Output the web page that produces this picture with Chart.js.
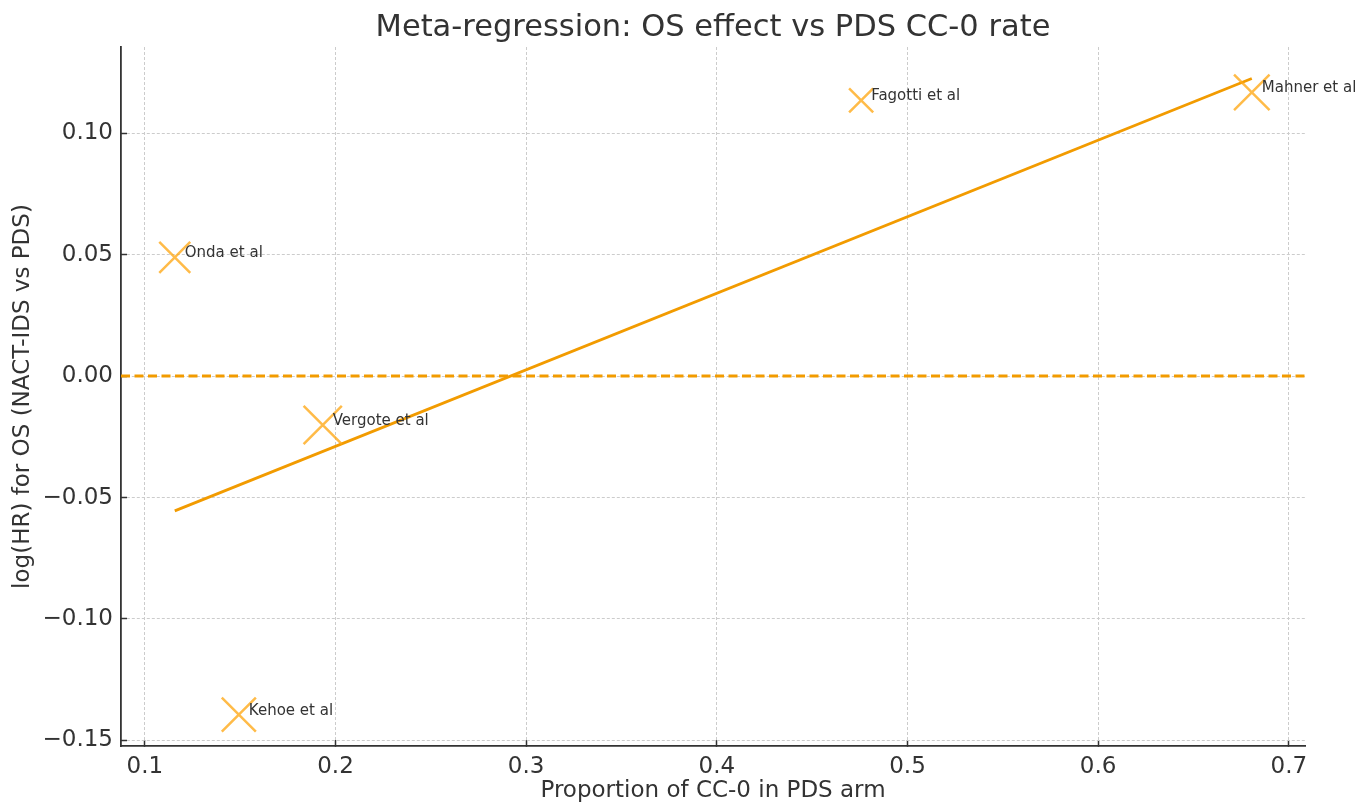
<!DOCTYPE html>
<html>
<head>
<meta charset="utf-8">
<title>Meta-regression: OS effect vs PDS CC-0 rate</title>
<script src="https://cdn.jsdelivr.net/npm/chart.js@4/dist/chart.umd.min.js"></script>
<style>
  html, body { margin: 0; padding: 0; background: #fff; }
  #wrap { width: 1371px; height: 805px; }
</style>
</head>
<body>
<div id="wrap"><canvas id="metaChart" width="1371" height="805"></canvas></div>
<script>
// Study data
const studies = ["Onda et al", "Kehoe et al", "Vergote et al", "Fagotti et al", "Mahner et al"];
const cc0Rate = [0.1157, 0.1493, 0.1933, 0.4757, 0.6806];       // proportion CC-0 in PDS arm
const logHR = [0.0489, -0.1394, -0.0201, 0.1135, 0.1168];        // log(HR) for OS
const studyWeight = [4.8, 5.8, 7.3, 2.9, 6.3];                   // relative weight (marker size)

// Meta-regression fitted line (end points)
const fitX = [0.1157, 0.6806];
const fitY = [-0.0555, 0.1225];

// Reference line at log(HR) = 0, across the axis range
const xLimits = [0.0875, 0.7085];
const yLimits = [-0.1523, 0.1355];
const zeroY = [0, 0];

const xTickStep = 0.1;
const yTickStep = 0.05;

const ORANGE = "#f29b00";
const MARKER = "rgba(255, 168, 20, 0.78)";
const FONT = "'DejaVu Sans', sans-serif";

const minus = v => (v < 0 ? "\u2212" : "") + Math.abs(v);

// Draw study names next to the markers
const studyLabels = {
    id: "studyLabels",
    afterDatasetsDraw(chart) {
        const meta = chart.getDatasetMeta(2);
        const ctx = chart.ctx;
        ctx.save();
        ctx.font = "15px " + FONT;
        ctx.fillStyle = "#333";
        ctx.textAlign = "left";
        ctx.textBaseline = "middle";
        meta.data.forEach((pt, i) => {
            ctx.fillText(studies[i], pt.x + 10, pt.y - 4);
        });
        ctx.restore();
    }
};

const ctx = document.getElementById("metaChart").getContext("2d");
new Chart(ctx, {
    type: "scatter",
    data: {
        datasets: [
            {
                type: "line",
                label: "zero",
                data: xLimits.map((x, i) => ({ x: x, y: zeroY[i] })),
                borderColor: ORANGE,
                borderWidth: 3,
                borderDash: [9, 4.5],
                pointRadius: 0,
                fill: false,
                order: 3
            },
            {
                type: "line",
                label: "fit",
                data: fitX.map((x, i) => ({ x: x, y: fitY[i] })),
                borderColor: ORANGE,
                borderWidth: 2.8,
                pointRadius: 0,
                fill: false,
                order: 2
            },
            {
                label: "studies",
                data: cc0Rate.map((x, i) => ({ x: x, y: logHR[i] })),
                pointStyle: "crossRot",
                pointRadius: studyWeight.map(w => 10 * Math.sqrt(w)),
                pointHoverRadius: studyWeight.map(w => 10 * Math.sqrt(w)),
                borderColor: MARKER,
                backgroundColor: MARKER,
                pointBorderWidth: 2.5,
                order: 1
            }
        ]
    },
    options: {
        responsive: false,
        animation: false,
        events: [],
        layout: { padding: { top: 0, right: 66, bottom: 0, left: 0 } },
        plugins: {
            legend: { display: false },
            tooltip: { enabled: false },
            title: {
                display: true,
                fullSize: false,
                text: "Meta-regression: OS effect vs PDS CC-0 rate",
                color: "#333",
                font: { family: FONT, size: 30.5, weight: "normal" },
                padding: { top: 10, bottom: 0.4 }
            }
        },
        scales: {
            x: {
                type: "linear",
                min: xLimits[0],
                max: xLimits[1],
                afterFit: s => { s.height = 59; },
                ticks: {
                    stepSize: xTickStep,
                    includeBounds: false,
                    color: "#333",
                    padding: 13,
                    font: { family: FONT, size: 23 },
                    callback: v => minus(Number(v.toFixed(1)).toFixed(1))
                },
                grid: {
                    color: "#cccccc",
                    lineWidth: 1,
                    tickColor: "#333",
                    tickLength: -6,
                    tickWidth: 1.5
                },
                border: { color: "#333", width: 1.8, dash: [3, 2] },
                title: {
                    display: true,
                    text: "Proportion of CC-0 in PDS arm",
                    color: "#333",
                    font: { family: FONT, size: 23 },
                    padding: { top: 0, bottom: 0 }
                }
            },
            y: {
                type: "linear",
                min: yLimits[0],
                max: yLimits[1],
                afterFit: s => { s.width = 121; },
                ticks: {
                    stepSize: yTickStep,
                    includeBounds: false,
                    color: "#333",
                    padding: 14,
                    font: { family: FONT, size: 23 },
                    callback: v => {
                        const r = Number(v.toFixed(2));
                        return (r < 0 ? "\u2212" : "") + Math.abs(r).toFixed(2);
                    }
                },
                grid: {
                    color: "#cccccc",
                    lineWidth: 1,
                    tickColor: "#333",
                    tickLength: -6,
                    tickWidth: 1.5
                },
                border: { color: "#333", width: 1.8, dash: [3, 2] },
                title: {
                    display: true,
                    text: "log(HR) for OS (NACT-IDS vs PDS)",
                    color: "#333",
                    font: { family: FONT, size: 23 },
                    padding: { top: 9, bottom: 0 }
                }
            }
        }
    },
    plugins: [studyLabels]
});
</script>
</body>
</html>
